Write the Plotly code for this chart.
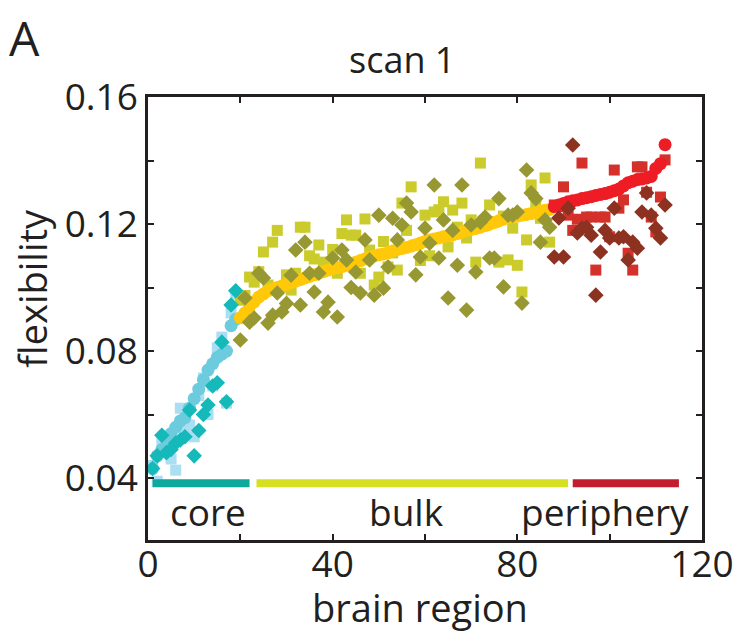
import plotly.graph_objects as go

# ---------------- data ----------------
core_x = list(range(1, 20))
bulk_x = list(range(20, 88))
peri_x = list(range(88, 113))

core_circles = [0.043, 0.047, 0.049, 0.052, 0.054, 0.056, 0.058, 0.059, 0.062, 0.065,
                0.068, 0.071, 0.074, 0.076, 0.078, 0.079, 0.080, 0.088, 0.090]
core_squares = [0.044, 0.039, 0.051, 0.048, 0.046, 0.0425, 0.062, 0.055, 0.0567, 0.053,
                0.066, 0.0715, 0.060, 0.069, 0.081, 0.0844, 0.0636, 0.092, 0.098]
core_diamonds = [0.043, 0.047, 0.0535, 0.048, 0.049, 0.051, 0.052, 0.053, 0.0614, 0.047,
                 0.055, 0.060, 0.063, 0.069, 0.070, 0.0828, 0.064, 0.0945, 0.099]

bulk_circles = [0.0905, 0.092, 0.094, 0.0955, 0.097, 0.098, 0.099, 0.0995, 0.100, 0.1005,
                0.101, 0.1015, 0.102, 0.1025, 0.103, 0.1035, 0.104, 0.1045, 0.105, 0.1055,
                0.106, 0.1063, 0.1066, 0.107, 0.1075, 0.108, 0.1085, 0.109, 0.1095, 0.110,
                0.1103, 0.1106, 0.111, 0.1115, 0.112, 0.1123, 0.1126, 0.113, 0.1135, 0.114,
                0.1145, 0.115, 0.1153, 0.1156, 0.116, 0.1163, 0.1166, 0.117, 0.1175, 0.118,
                0.1183, 0.1186, 0.119, 0.1195, 0.120, 0.1205, 0.121, 0.1215, 0.122, 0.1222,
                0.1225, 0.1228, 0.123, 0.1233, 0.1236, 0.124, 0.1243, 0.1246]
bulk_squares = [0.096, 0.0975, 0.1033, 0.1017, 0.105, 0.1112, 0.1008, 0.1143, 0.118, 0.1002,
                0.104, 0.0992, 0.1045, 0.119, 0.119, 0.110, 0.109, 0.1134, 0.108, 0.106,
                0.112, 0.1045, 0.117, 0.1213, 0.1165, 0.1165, 0.1045, 0.1216, 0.1118, 0.1008,
                0.1033, 0.1145, 0.1065, 0.1109, 0.1055, 0.1266, 0.118, 0.1317, 0.1134, 0.1085,
                0.1228, 0.110, 0.1238, 0.1245, 0.127, 0.1128, 0.1244, 0.119, 0.1266, 0.1156,
                0.1213, 0.108, 0.1392, 0.1195, 0.126, 0.1206, 0.108, 0.1225, 0.1087, 0.1187,
                0.107, 0.0986, 0.115, 0.1323, 0.1265, 0.1218, 0.1345, 0.1143]
bulk_diamonds = [0.0835, 0.0967, 0.0891, 0.0904, 0.1045, 0.103, 0.0888, 0.0913, 0.0983, 0.0923,
                 0.095, 0.1039, 0.1118, 0.0945, 0.1143, 0.1045, 0.0986, 0.1045, 0.0923, 0.0954,
                 0.1093, 0.0907, 0.1118, 0.1087, 0.100, 0.1049, 0.0983, 0.115, 0.1087, 0.0976,
                 0.1228, 0.0998, 0.1065, 0.1218, 0.115, 0.1197, 0.1266, 0.1238, 0.104, 0.1096,
                 0.1187, 0.114, 0.1323, 0.1093, 0.1213, 0.0967, 0.118, 0.107, 0.1323, 0.0929,
                 0.1197, 0.1049, 0.1206, 0.1222, 0.1093, 0.1093, 0.128, 0.1002, 0.1228, 0.1228,
                 0.1238, 0.0951, 0.137, 0.1298, 0.128, 0.1143, 0.1213, 0.119]

peri_circles = [0.1255, 0.126, 0.1265, 0.127, 0.1273, 0.1276, 0.128, 0.1283, 0.1286, 0.129,
                0.1293, 0.1296, 0.130, 0.1305, 0.131, 0.132, 0.133, 0.1335, 0.134, 0.1342,
                0.1345, 0.135, 0.1375, 0.139, 0.145]
peri_squares = [0.126, 0.1255, 0.1317, 0.1228, 0.118, 0.1215, 0.1392, 0.1222, 0.1222, 0.1055,
                0.1222, 0.1222, 0.116, 0.137, 0.125, 0.1276, 0.1108, 0.1055, 0.138, 0.138,
                0.130, 0.1222, 0.1175, 0.1285, 0.1402]
peri_diamonds = [0.1096, 0.1219, 0.1096, 0.125, 0.1449, 0.1172, 0.1187, 0.119, 0.1165, 0.0976,
                 0.1112, 0.118, 0.1156, 0.125, 0.1156, 0.116, 0.1087, 0.1143, 0.1124, 0.1238,
                 0.1298, 0.1228, 0.1187, 0.1156, 0.126]

group_names = ["core", "bulk", "periphery"]
bar_starts = [1, 23.5, 92]
bar_ends = [22, 91, 115]
bar_level = 0.0384
label_x = [13, 56, 99]
label_y = 0.0296

x_ticks = [0, 20, 40, 60, 80, 100, 120]
x_ticktext = ["0", "", "40", "", "80", "", "120"]
y_ticks = [0.04, 0.06, 0.08, 0.10, 0.12, 0.14, 0.16]
y_ticktext = ["0.04", "", "0.08", "", "0.12", "", "0.16"]

# ---------------- style ----------------
sq_col = ["#aadff3", "#cbcb2b", "#d5312b"]
ci_col = ["#6ccbdc", "#ffc90a", "#ee1c25"]
di_col = ["#15b9b9", "#989833", "#8d3220"]
bar_col = ["#0ea89c", "#d7df23", "#c21e2f"]
INK = "#231f20"
FONT = "Open Sans"

W, H = 746, 639
ML, MR, MT, MB = 148, 36, 97, 99
PW, PH = W - ML - MR, H - MT - MB


def px_to_paper(px, py):
    return (px - ML) / PW, 1 - (py - MT) / PH


fig = go.Figure()
xs = [core_x, bulk_x, peri_x]
sqs = [core_squares, bulk_squares, peri_squares]
cis = [core_circles, bulk_circles, peri_circles]
dis = [core_diamonds, bulk_diamonds, peri_diamonds]

for g in range(3):
    fig.add_trace(go.Scatter(x=xs[g], y=sqs[g], mode="markers",
                             marker=dict(symbol="square", size=11, color=sq_col[g], line=dict(width=0)),
                             showlegend=False, hoverinfo="skip"))
for g in range(3):
    fig.add_trace(go.Scatter(x=xs[g], y=cis[g], mode="markers",
                             marker=dict(symbol="circle", size=13, color=ci_col[g], line=dict(width=0)),
                             showlegend=False, hoverinfo="skip"))
for g in range(3):
    fig.add_trace(go.Scatter(x=xs[g], y=dis[g], mode="markers",
                             marker=dict(symbol="diamond", size=12, color=di_col[g], line=dict(width=0)),
                             showlegend=False, hoverinfo="skip"))
for g in range(3):
    fig.add_trace(go.Scatter(x=[bar_starts[g], bar_ends[g]], y=[bar_level, bar_level], mode="lines",
                             line=dict(color=bar_col[g], width=8),
                             showlegend=False, hoverinfo="skip"))
    fig.add_annotation(x=label_x[g], y=label_y, xref="x", yref="y", text=group_names[g],
                       showarrow=False, font=dict(family=FONT, size=37, color=INK),
                       xanchor="center", yanchor="middle")

axis_common = dict(showgrid=False, zeroline=False, showline=True, linecolor=INK, linewidth=2.5,
                   mirror="ticks", ticks="inside", ticklen=6, tickwidth=2, tickcolor=INK,
                   tickfont=dict(family=FONT, size=37, color=INK))

fig.update_xaxes(range=[0, 120], tickvals=x_ticks, ticktext=x_ticktext, ticklabelstandoff=-10,
                 **axis_common)
fig.update_yaxes(range=[0.0205, 0.16], tickvals=y_ticks, ticktext=y_ticktext, **axis_common)

for text, px, py, size, angle in [("flexibility", 30, 288, 38, -90),
                                  ("brain region", 424, 607, 38, 0),
                                  ("scan 1", 406, 60, 36, 0),
                                  ("A", 23, 37, 48, 0)]:
    ax, ay = px_to_paper(px, py)
    fig.add_annotation(x=ax, y=ay, xref="paper", yref="paper", text=text, showarrow=False,
                       textangle=angle, xanchor="center", yanchor="middle",
                       font=dict(family=FONT, size=size, color=INK))

fig.update_layout(width=W, height=H, margin=dict(l=ML, r=MR, t=MT, b=MB),
                  plot_bgcolor="white", paper_bgcolor="white")

fig.write_html("out.html")
